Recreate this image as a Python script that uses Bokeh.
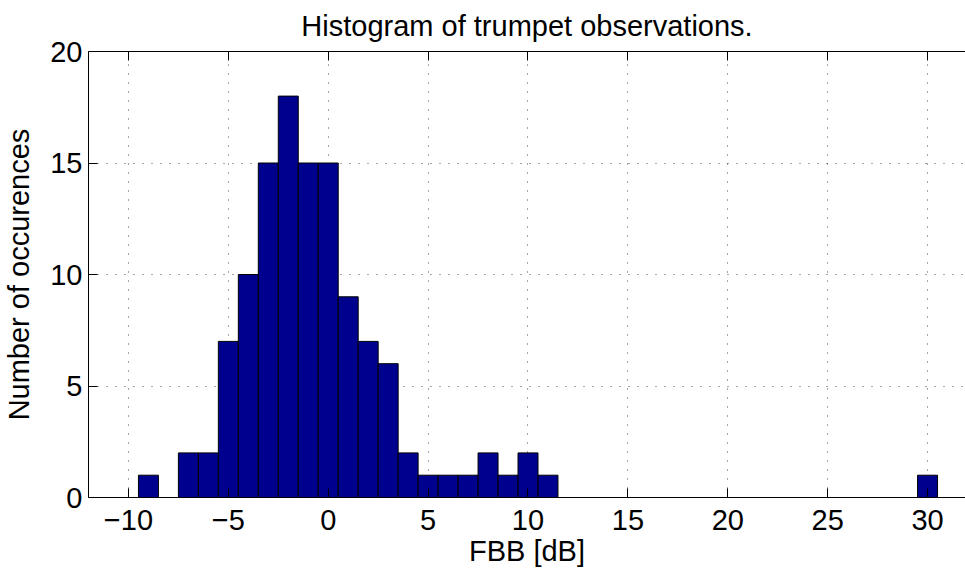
from bokeh.plotting import figure
from bokeh.models import LinearAxis, FixedTicker, Range1d
from bokeh.embed import file_html
from bokeh.resources import INLINE

# Data: histogram of FBB [dB] values, bins of width 1 centred on integers
bin_centers = list(range(-9, 31))
counts = [1, 0, 2, 2, 7, 10, 15, 18, 15, 15, 9, 7, 6, 2, 1, 1, 1, 2, 1, 2, 1] + [0] * 18 + [1]
bin_width = 1.0
x_ticks = [-10, -5, 0, 5, 10, 15, 20, 25, 30]
y_ticks = [0, 5, 10, 15, 20]

FONT = "Liberation Sans"
FS = "29px"

lefts = [c - bin_width / 2 for c in bin_centers]
rights = [c + bin_width / 2 for c in bin_centers]

p = figure(width=965, height=572, output_backend="svg", toolbar_location=None,
           x_range=Range1d(-12, 31.9), y_range=Range1d(0, 20),
           title="Histogram of trumpet observations.",
           x_axis_label="FBB [dB]", y_axis_label="Number of occurences",
           min_border_left=87, min_border_right=0, min_border_top=51, min_border_bottom=75)

p.outline_line_color = None
p.background_fill_color = "white"
p.border_fill_color = "white"

p.title.text_font = FONT
p.title.text_font_size = FS
p.title.text_font_style = "normal"
p.title.align = "center"
p.title.vertical_align = "top"
p.title.text_line_height = 0.6
p.title.text_color = "black"
p.title.standoff = 16

p.quad(left=lefts, right=rights, bottom=0, top=counts,
       fill_color="#00008F", line_color="black", line_width=1)

minus = lambda t: str(t).replace("-", "\u2212")

for ax, ticks in ((p.xaxis[0], x_ticks), (p.yaxis[0], y_ticks)):
    ax.ticker = FixedTicker(ticks=ticks)
    ax.major_label_overrides = {t: minus(t) for t in ticks}
    ax.major_tick_in = 9
    ax.major_tick_out = 0
    ax.minor_tick_line_color = None
    ax.major_label_text_font = FONT
    ax.major_label_text_font_size = FS
    ax.major_label_text_color = "black"
    ax.axis_label_text_font = FONT
    ax.axis_label_text_font_size = FS
    ax.axis_label_text_font_style = "normal"
    ax.axis_label_text_color = "black"
    ax.axis_line_color = "black"
    ax.major_tick_line_color = "black"

p.xaxis[0].major_label_standoff = 12
p.xaxis[0].axis_label_standoff = 2
p.yaxis[0].major_label_standoff = 6
p.yaxis[0].axis_label_standoff = 12

top_ax = LinearAxis(ticker=FixedTicker(ticks=x_ticks), major_tick_in=9, major_tick_out=0,
                    minor_tick_line_color=None, major_label_text_font_size="1px",
                    major_label_text_color=None, major_label_standoff=0,
                    axis_line_color="black", major_tick_line_color="black")
p.add_layout(top_ax, "above")

for g, ticks in ((p.xgrid[0], x_ticks), (p.ygrid[0], y_ticks)):
    g.ticker = FixedTicker(ticks=ticks)
    g.grid_line_color = "black"
    g.grid_line_alpha = 0.7
    g.grid_line_dash = "1 8"
    g.grid_line_width = 1

open("out.html", "w").write(file_html(p, INLINE))
